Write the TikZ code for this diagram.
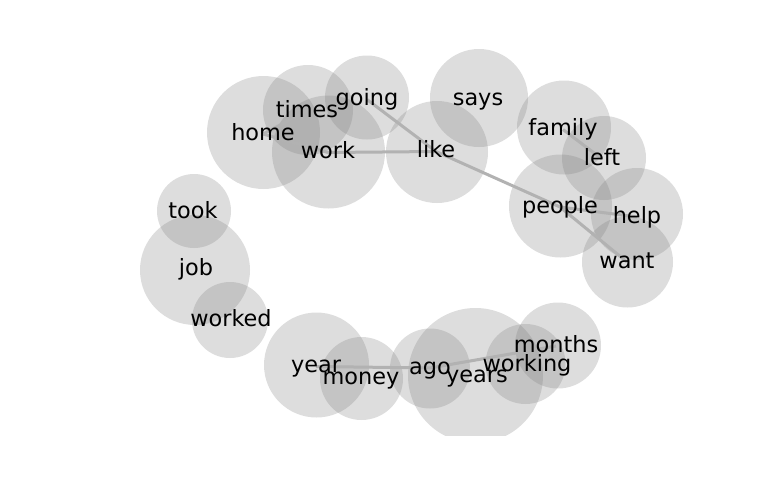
\documentclass[tikz,border=0pt]{standalone}
\usepackage{fontspec}
\setmainfont{DejaVu Sans}
\begin{document}
\begin{tikzpicture}[x=0.75pt,y=-0.75pt,
  bubble/.style={circle,fill=gray,fill opacity=0.27,draw=none,inner sep=0pt},
  link/.style={draw=black!30,line width=2.25pt},
  word/.style={inner sep=0pt,text height=0.76em,text depth=0.24em,yshift=-2.25pt,font=\fontsize{16.8}{20}\selectfont,text=black}]
\useasboundingbox (0,0) rectangle (768,500);
% positions
\coordinate (home) at (263,134);
\coordinate (times) at (307,111);
\coordinate (going) at (367,99.5);
\coordinate (work) at (328,152.5);
\coordinate (like) at (436,151.5);
\coordinate (says) at (478,99);
\coordinate (family) at (563,129.5);
\coordinate (left) at (602,159);
\coordinate (people) at (560,207);
\coordinate (help) at (637,217);
\coordinate (want) at (627,262);
\coordinate (took) at (193,212.5);
\coordinate (job) at (196,269);
\coordinate (worked) at (231,320.5);
\coordinate (year) at (316,366.5);
\coordinate (money) at (361,378);
\coordinate (ago) at (430,368);
\coordinate (years) at (477,376);
\coordinate (working) at (527,365.5);
\coordinate (months) at (556,346);
% circles
\begin{scope}
\clip (0,0) rectangle (768,435);
\node[bubble,minimum size=113*0.75pt] (c-home) at (263.5,132.5) {};
\node[bubble,minimum size=90*0.75pt] (c-times) at (308,110) {};
\node[bubble,minimum size=84*0.75pt] (c-going) at (367,97.5) {};
\node[bubble,minimum size=113*0.75pt] (c-work) at (328.5,152) {};
\node[bubble,minimum size=102*0.75pt] (c-like) at (437,152) {};
\node[bubble,minimum size=98*0.75pt] (c-says) at (479,98) {};
\node[bubble,minimum size=94*0.75pt] (c-family) at (564,127.5) {};
\node[bubble,minimum size=84*0.75pt] (c-left) at (604,158) {};
\node[bubble,minimum size=103*0.75pt] (c-people) at (560.5,206) {};
\node[bubble,minimum size=92*0.75pt] (c-help) at (637,214) {};
\node[bubble,minimum size=91*0.75pt] (c-want) at (627.5,262) {};
\node[bubble,minimum size=74*0.75pt] (c-took) at (194,211) {};
\node[bubble,minimum size=110*0.75pt] (c-job) at (195,270) {};
\node[bubble,minimum size=76*0.75pt] (c-worked) at (230,320) {};
\node[bubble,minimum size=105*0.75pt] (c-year) at (316.5,365) {};
\node[bubble,minimum size=83*0.75pt] (c-money) at (361.5,378.5) {};
\node[bubble,minimum size=80*0.75pt] (c-ago) at (430,368.5) {};
\node[bubble,minimum size=135*0.75pt] (c-years) at (475.5,375.5) {};
\node[bubble,minimum size=80*0.75pt] (c-working) at (525.5,364) {};
\node[bubble,minimum size=86*0.75pt] (c-months) at (558,345.5) {};
\end{scope}
% edges
\draw[link] (home) -- (times);
\draw[link] (home) -- (work);
\draw[link] (work) -- (like);
\draw[link] (going) -- (like);
\draw[link] (like) -- (people);
\draw[link] (family) -- (left);
\draw[link] (people) -- (help);
\draw[link] (people) -- (want);
\draw[link] (year) -- (ago);
\draw[link] (ago) -- (months);
% words
\node[word] (t-home) at (home) {home};
\node[word] (t-times) at (times) {times};
\node[word] (t-going) at (going) {going};
\node[word] (t-work) at (work) {work};
\node[word] (t-like) at (like) {like};
\node[word] (t-says) at (says) {says};
\node[word] (t-family) at (family) {family};
\node[word] (t-left) at (left) {left};
\node[word] (t-people) at (people) {people};
\node[word] (t-help) at (help) {help};
\node[word] (t-want) at (want) {want};
\node[word] (t-took) at (took) {took};
\node[word] (t-job) at (job) {job};
\node[word] (t-worked) at (worked) {worked};
\node[word] (t-year) at (year) {year};
\node[word] (t-money) at (money) {money};
\node[word] (t-ago) at (ago) {ago};
\node[word] (t-years) at (years) {years};
\node[word] (t-working) at (working) {working};
\node[word] (t-months) at (months) {months};
\end{tikzpicture}
\end{document}
